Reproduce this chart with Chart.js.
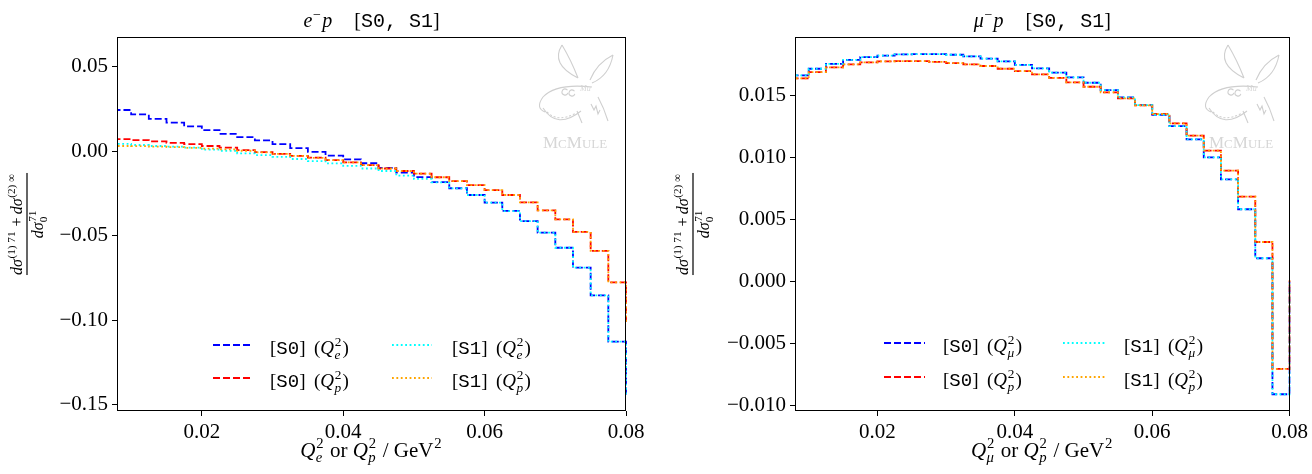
<!DOCTYPE html>
<html>
<head>
<meta charset="utf-8">
<script src="https://cdn.jsdelivr.net/npm/chart.js@4.4.1/dist/chart.umd.min.js"></script>
<style>
html, body { margin: 0; padding: 0; background: #fff; }
#wrap { position: relative; width: 1312px; height: 474px; }
canvas { position: absolute; top: 0; }
#cl { left: 0; }
#cr { left: 656px; }
</style>
</head>
<body>
<div id="wrap">
  <canvas id="cl" width="656" height="474"></canvas>
  <canvas id="cr" width="656" height="474"></canvas>
</div>
<script>
// Bin edges (GeV^2); last edge lies past the axis end and is clipped
const binEdges = [0.0075, 0.0100, 0.0125, 0.0150, 0.0175, 0.0200, 0.0225, 0.0250, 0.0275, 0.0300,
                  0.0325, 0.0350, 0.0375, 0.0400, 0.0425, 0.0450, 0.0475, 0.0500, 0.0525, 0.0550,
                  0.0575, 0.0600, 0.0625, 0.0650, 0.0675, 0.0700, 0.0725, 0.0750, 0.0775, 0.0800, 0.0825];

const xTicks = [0.02, 0.04, 0.06, 0.08];
const epYTicks = [-0.15, -0.10, -0.05, 0.00, 0.05];
const mpYTicks = [-0.010, -0.005, 0.000, 0.005, 0.010, 0.015];

// e- p
const epS0Qe = [0.0243, 0.0217, 0.0191, 0.0168, 0.0146, 0.0124, 0.0102, 0.0083, 0.0063, 0.0041,
                0.0018, -0.0005, -0.0027, -0.0049, -0.0072, -0.0099, -0.0128, -0.0154, -0.0184, -0.0220,
                -0.0260, -0.0305, -0.0354, -0.0414, -0.0483, -0.0572, -0.0690, -0.0854, -0.1128, -0.1444];
const epS0Qp = [0.0071, 0.0065, 0.0057, 0.0049, 0.0041, 0.0030, 0.0020, 0.0006, -0.0006, -0.0016,
                -0.0028, -0.0039, -0.0053, -0.0067, -0.0083, -0.0103, -0.0118, -0.0134, -0.0155, -0.0178,
                -0.0201, -0.0231, -0.0260, -0.0304, -0.0351, -0.0404, -0.0478, -0.0590, -0.0777, -0.1010];
const epS1Qe = [0.0043, 0.0036, 0.0030, 0.0026, 0.0020, 0.0008, 0.0002, -0.0014, -0.0024, -0.0034,
                -0.0047, -0.0059, -0.0073, -0.0087, -0.0103, -0.0118, -0.0145, -0.0165, -0.0185, -0.0221,
                -0.0260, -0.0305, -0.0355, -0.0414, -0.0483, -0.0572, -0.0690, -0.0854, -0.1128, -0.1444];
const epS1Qp = [0.0030, 0.0029, 0.0026, 0.0023, 0.0019, 0.0015, 0.0010, 0.0002, -0.0008, -0.0017,
                -0.0028, -0.0040, -0.0053, -0.0067, -0.0083, -0.0103, -0.0118, -0.0134, -0.0155, -0.0178,
                -0.0201, -0.0231, -0.0260, -0.0304, -0.0351, -0.0404, -0.0478, -0.0590, -0.0777, -0.1010];

// mu- p
const mpS0Qmu = [0.01664, 0.01717, 0.01757, 0.01789, 0.01811, 0.01822, 0.01833, 0.01835, 0.01835, 0.01830,
                 0.01817, 0.01798, 0.01776, 0.01749, 0.01720, 0.01685, 0.01647, 0.01604, 0.01545, 0.01486,
                 0.01424, 0.01346, 0.01255, 0.01148, 0.01003, 0.00825, 0.00584, 0.00189, -0.00908, 0.00000];
const mpS0Qp = [0.01639, 0.01690, 0.01728, 0.01752, 0.01768, 0.01776, 0.01779, 0.01779, 0.01773, 0.01763,
                0.01752, 0.01739, 0.01717, 0.01698, 0.01672, 0.01644, 0.01607, 0.01572, 0.01527, 0.01478,
                0.01422, 0.01352, 0.01277, 0.01177, 0.01056, 0.00895, 0.00685, 0.00320, -0.00704, 0.00010];
const mpS1Qmu = [0.01664, 0.01717, 0.01757, 0.01789, 0.01811, 0.01822, 0.01833, 0.01835, 0.01835, 0.01830,
                 0.01817, 0.01798, 0.01776, 0.01749, 0.01720, 0.01685, 0.01647, 0.01604, 0.01545, 0.01486,
                 0.01424, 0.01346, 0.01255, 0.01148, 0.01003, 0.00825, 0.00584, 0.00189, -0.00908, 0.00000];
const mpS1Qp = [0.01639, 0.01690, 0.01728, 0.01752, 0.01768, 0.01776, 0.01779, 0.01779, 0.01773, 0.01763,
                0.01752, 0.01739, 0.01717, 0.01698, 0.01672, 0.01644, 0.01607, 0.01572, 0.01527, 0.01478,
                0.01422, 0.01352, 0.01277, 0.01177, 0.01056, 0.00895, 0.00685, 0.00320, -0.00704, 0.00010];

const SERIF = "'Liberation Serif', 'DejaVu Serif', serif";
const MONO = "'Liberation Mono', 'DejaVu Sans Mono', monospace";

const STYLES = [
    { color: '#0000ff', dash: [7, 3] },   // [S0] first Q
    { color: '#ff0000', dash: [7, 3] },   // [S0] Q_p
    { color: '#00ffff', dash: [1.8, 2.6] }, // [S1] first Q
    { color: '#ffa500', dash: [1.8, 2.6] }  // [S1] Q_p
];

// --- rich text helpers (poor man's mathtext) ---
function fontOf(kind, size) {
    if (kind === 'it') return 'italic ' + size + 'px ' + SERIF;
    if (kind === 'tt') return size + 'px ' + MONO;
    return size + 'px ' + SERIF;
}

function segWidth(ctx, sg, size) {
    if (sg.sup !== undefined || sg.sub !== undefined) {
        const s = size * 0.7;
        let w = 0;
        if (sg.sup) { ctx.font = fontOf(sg.supF, s); w = Math.max(w, ctx.measureText(sg.sup).width); }
        if (sg.sub) { ctx.font = fontOf(sg.subF, s); w = Math.max(w, ctx.measureText(sg.sub).width); }
        return w + size * 0.1;
    }
    ctx.font = fontOf(sg.f, size);
    return ctx.measureText(sg.t).width + (sg.gap || 0) * size;
}

function richWidth(ctx, segs, size) {
    return segs.reduce((w, sg) => w + segWidth(ctx, sg, size), 0);
}

function drawRich(ctx, segs, x, y, size, align) {
    const w = richWidth(ctx, segs, size);
    let cx = align === 'center' ? x - w / 2 : (align === 'right' ? x - w : x);
    ctx.textAlign = 'left';
    ctx.textBaseline = 'alphabetic';
    segs.forEach(sg => {
        if (sg.sup !== undefined || sg.sub !== undefined) {
            const s = size * 0.7;
            if (sg.sup) { ctx.font = fontOf(sg.supF, s); ctx.fillText(sg.sup, cx + size * 0.04, y - size * 0.42); }
            if (sg.sub) { ctx.font = fontOf(sg.subF, s); ctx.fillText(sg.sub, cx + size * 0.02, y + size * 0.26); }
        } else {
            ctx.font = fontOf(sg.f, size);
            ctx.fillText(sg.t, cx, y);
        }
        cx += segWidth(ctx, sg, size);
    });
    return w;
}

function qSquared(sub) {
    return [{ t: 'Q', f: 'it' }, { sup: '2', sub: sub, subF: 'it' }];
}

function legendLabel(tag, sub) {
    return [{ t: '[' }, { t: tag, f: 'tt' }, { t: ']' }, { t: ' ', gap: 0.2 }, { t: '(' }]
        .concat(qSquared(sub)).concat([{ t: ')' }]);
}

function drawLogo(ctx, dx) {
    ctx.save();
    ctx.translate(dx, 0);
    ctx.strokeStyle = '#cfcfcf';
    ctx.fillStyle = '#d6d6d6';
    ctx.lineWidth = 1.1;
    ctx.beginPath();
    // ears
    ctx.moveTo(562, 45); ctx.quadraticCurveTo(550, 64, 578, 78);
    ctx.moveTo(562, 45); ctx.quadraticCurveTo(571, 60, 578, 78);
    ctx.moveTo(613, 55); ctx.quadraticCurveTo(609, 76, 592, 83);
    ctx.moveTo(613, 55); ctx.quadraticCurveTo(597, 63, 590, 80);
    // head and grin
    ctx.moveTo(592, 87); ctx.quadraticCurveTo(556, 83, 543, 97);
    ctx.quadraticCurveTo(535, 108, 545, 112);
    ctx.moveTo(543, 108); ctx.quadraticCurveTo(557, 130, 581, 111);
    ctx.moveTo(577, 111); ctx.lineTo(582, 123);
    ctx.moveTo(598, 97); ctx.quadraticCurveTo(604, 108, 608, 121);
    // legs zigzag
    ctx.moveTo(591, 104); ctx.lineTo(594, 110); ctx.lineTo(596, 106); ctx.lineTo(598, 114); ctx.lineTo(600, 110);
    ctx.stroke();
    // eyes
    ctx.beginPath(); ctx.arc(565, 92, 3, 0.3, Math.PI * 1.8); ctx.stroke();
    ctx.beginPath(); ctx.arc(572, 93, 3, 0.3, Math.PI * 1.8); ctx.stroke();
    // teeth
    ctx.setLineDash([2, 2]);
    ctx.beginPath(); ctx.moveTo(547, 112); ctx.quadraticCurveTo(558, 123, 576, 113); ctx.stroke();
    ctx.setLineDash([]);
    ctx.font = 'italic 8px ' + SERIF;
    ctx.fillText('Mu', 580, 91);
    // name in small caps
    const parts = [['M', 17], ['C', 13], ['M', 17], ['ULE', 13]];
    let x = 543;
    parts.forEach(p => {
        ctx.font = p[1] + 'px ' + SERIF;
        ctx.fillText(p[0], x, 148);
        x += ctx.measureText(p[0]).width;
    });
    ctx.restore();
}

// Draws frame, titles, axis labels, legend and logo
const decorPlugin = {
    id: 'decor',
    beforeDatasetsDraw(chart, args, opts) {
        drawLogo(chart.ctx, opts.logoDx);
    },
    afterDraw(chart, args, opts) {
        const ctx = chart.ctx;
        const a = chart.chartArea;
        ctx.save();
        ctx.strokeStyle = '#000';
        ctx.lineWidth = 1;
        ctx.strokeRect(Math.round(a.left) + 0.5, Math.round(a.top) + 0.5,
                       Math.round(a.right - a.left) - 1, Math.round(a.bottom - a.top) - 1);
        ctx.fillStyle = '#000';
        const mid = (a.left + a.right) / 2;

        // title
        drawRich(ctx, opts.title, mid, 27, 20, 'center');
        // x axis label
        drawRich(ctx, opts.xLabel, mid, 457, 21, 'center');

        // y axis label as a rotated fraction
        ctx.save();
        ctx.translate(opts.fracX, 224);
        ctx.rotate(-Math.PI / 2);
        const num = [{ t: 'dσ', f: 'it' }, { sup: '(1) 71' }, { t: ' + ', gap: -0.05 }, { t: 'dσ', f: 'it' }, { sup: '(2) ∞' }];
        const den = [{ t: 'dσ', f: 'it' }, { sup: '71', sub: '0' }];
        const wn = richWidth(ctx, num, 16);
        drawRich(ctx, num, 0, -5, 16, 'center');
        ctx.fillRect(-wn / 2, -0.6, wn, 1.2);
        drawRich(ctx, den, 0, 15.5, 16, 'center');
        ctx.restore();

        // legend
        const lg = opts.legend;
        lg.items.forEach(it => {
            const st = STYLES[it.style];
            const col = lg.cols[it.col];
            const y = lg.rows[it.row];
            ctx.save();
            ctx.strokeStyle = st.color;
            ctx.lineWidth = 1.8;
            ctx.setLineDash(st.dash);
            ctx.beginPath();
            ctx.moveTo(col.x0, y);
            ctx.lineTo(col.x1, y);
            ctx.stroke();
            ctx.restore();
            drawRich(ctx, legendLabel(it.tag, it.sub), col.text, y + 9, 19, 'left');
        });
        ctx.restore();
    }
};

// one point per bin left edge, value held until the next edge
function stepData(vals) {
    return binEdges.map((e, i) => ({ x: e, y: vals[Math.min(i, vals.length - 1)] }));
}

function makeChart(canvasId, cfg) {
    const datasets = cfg.series.map((vals, i) => ({
        data: stepData(vals),
        borderColor: STYLES[i].color,
        borderDash: STYLES[i].dash,
        borderWidth: 1.8,
        stepped: 'before',
        pointRadius: 0,
        fill: false,
        order: 4 - i, // matplotlib draw order: later series on top
        clip: { left: 0, top: 0, right: 1, bottom: 0 }
    }));

    const tickFont = { family: SERIF, size: 21 };
    const fmt = (v, d) => {
        const s = Math.abs(v).toFixed(d);
        return (v < -1e-12 ? '\u2212' : '') + s;
    };

    return new Chart(document.getElementById(canvasId), {
        type: 'line',
        data: { datasets: datasets },
        options: {
            responsive: false,
            animation: false,
            devicePixelRatio: 1,
            layout: { padding: { left: 0, right: cfg.padRight, top: 37, bottom: 0 } },
            plugins: {
                legend: { display: false },
                tooltip: { enabled: false },
                decor: cfg.decor
            },
            scales: {
                x: {
                    type: 'linear',
                    min: 0.008,
                    max: 0.08,
                    afterFit: s => { s.height = 63; },
                    afterBuildTicks: s => { s.ticks = xTicks.map(v => ({ value: v })); },
                    grid: { drawOnChartArea: false, drawTicks: true, tickLength: 5, tickColor: '#000', tickWidth: 1 },
                    border: { display: false },
                    ticks: { color: '#000', font: tickFont, padding: 4, maxRotation: 0, autoSkip: false,
                             callback: v => fmt(v, 2) }
                },
                y: {
                    type: 'linear',
                    min: cfg.yMin,
                    max: cfg.yMax,
                    afterFit: s => { s.width = cfg.axisWidth; },
                    afterBuildTicks: s => { s.ticks = cfg.yTicks.map(v => ({ value: v })); },
                    grid: { drawOnChartArea: false, drawTicks: true, tickLength: 5, tickColor: '#000', tickWidth: 1 },
                    border: { display: false },
                    ticks: { color: '#000', font: tickFont, padding: 4, autoSkip: false,
                             callback: v => fmt(v, cfg.yDecimals) }
                }
            }
        },
        plugins: [decorPlugin]
    });
}

makeChart('cl', {
    series: [epS0Qe, epS0Qp, epS1Qe, epS1Qp],
    yMin: -0.1538, yMax: 0.0675, yTicks: epYTicks, yDecimals: 2,
    axisWidth: 117, padRight: 30,
    decor: {
        logoDx: 0,
        fracX: 27,
        title: [{ t: 'e', f: 'it' }, { sup: '\u2212' }, { t: 'p', f: 'it' }, { t: '', gap: 1.1 },
                { t: '[' }, { t: 'S0, S1', f: 'tt' }, { t: ']' }],
        xLabel: qSquared('e').concat([{ t: ' or ' }]).concat(qSquared('p')).concat([{ t: ' / GeV' }, { sup: '2' }]),
        legend: {
            rows: [345, 378],
            cols: [{ x0: 213, x1: 253, text: 270 }, { x0: 392, x1: 432, text: 452 }],
            items: [
                { style: 0, col: 0, row: 0, tag: 'S0', sub: 'e' },
                { style: 1, col: 0, row: 1, tag: 'S0', sub: 'p' },
                { style: 2, col: 1, row: 0, tag: 'S1', sub: 'e' },
                { style: 3, col: 1, row: 1, tag: 'S1', sub: 'p' }
            ]
        }
    }
});

makeChart('cr', {
    series: [mpS0Qmu, mpS0Qp, mpS1Qmu, mpS1Qp],
    yMin: -0.01043, yMax: 0.01973, yTicks: mpYTicks, yDecimals: 3,
    axisWidth: 139, padRight: 20,
    decor: {
        logoDx: 10,
        fracX: 37,
        title: [{ t: 'μ', f: 'it' }, { sup: '\u2212' }, { t: 'p', f: 'it' }, { t: '', gap: 1.1 },
                { t: '[' }, { t: 'S0, S1', f: 'tt' }, { t: ']' }],
        xLabel: qSquared('μ').concat([{ t: ' or ' }]).concat(qSquared('p')).concat([{ t: ' / GeV' }, { sup: '2' }]),
        legend: {
            rows: [343, 377],
            cols: [{ x0: 228, x1: 269, text: 287 }, { x0: 407, x1: 449, text: 468 }],
            items: [
                { style: 0, col: 0, row: 0, tag: 'S0', sub: 'μ' },
                { style: 1, col: 0, row: 1, tag: 'S0', sub: 'p' },
                { style: 2, col: 1, row: 0, tag: 'S1', sub: 'μ' },
                { style: 3, col: 1, row: 1, tag: 'S1', sub: 'p' }
            ]
        }
    }
});
</script>
</body>
</html>
